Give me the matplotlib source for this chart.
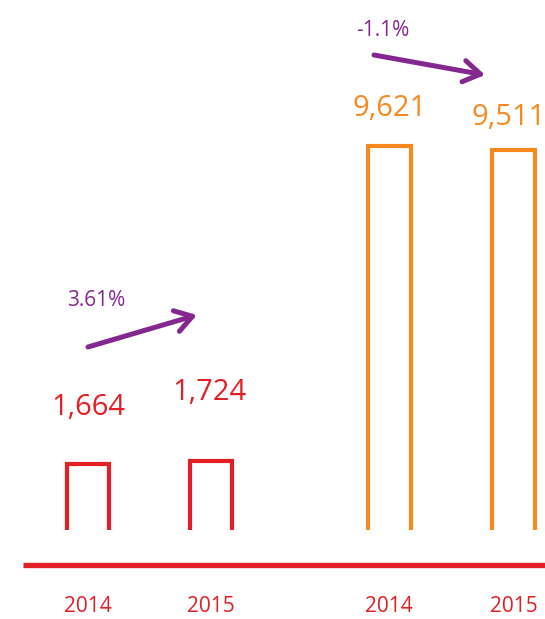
import matplotlib.pyplot as plt
import numpy as np

# data
years = ['2014', '2015', '2014', '2015']
values = [1664, 1724, 9621, 9511]
value_labels = ['1,664', '1,724', '9,621', '9,511']
changes = ['3.61%', '-1.1%']

# layout / style
xpos = [0, 1, 2.45, 3.46]
bar_colors = ['#e31e24', '#e31e24', '#f7891f', '#f7891f']
label_dy = [56, 69, 38, 33]  # px above bar top
label_dx = [0, -1.5, 0, -5]
purple = '#84278f'
red = '#e31e24'
bw = 0.345
upp = 25.06  # value units per pixel

plt.rcParams['font.family'] = ['Open Sans', 'DejaVu Sans']

fig = plt.figure(figsize=(5.45, 6.19), dpi=100)
ax = fig.add_axes([0, 0, 1, 1])
ax.set_xlim(-88 / 123, (545 - 88) / 123)
ax.set_ylim(-89 * upp, (619 - 89) * upp)
ax.axis('off')

# bars drawn as open outlines (no bottom edge)
for x, v, c in zip(xpos, values, bar_colors):
    ax.plot([x - bw / 2, x - bw / 2, x + bw / 2, x + bw / 2], [0, v, v, 0],
            color=c, lw=3.0, solid_joinstyle='miter', solid_capstyle='butt')

for x, v, lab, c, dy, dx in zip(xpos, values, value_labels, bar_colors, label_dy, label_dx):
    ax.text(x + dx / 123, v + dy * upp, lab, color=c, fontsize=21,
            ha='center', va='center')

# baseline
ax.plot([(23 - 88) / 123, (545 - 88) / 123], [-35 * upp, -35 * upp],
        color=red, lw=3.8, solid_capstyle='butt')

# years
for x, y in zip(xpos, years):
    ax.text(x, -77 * upp, y, color=red, fontsize=15, ha='center', va='center')

# change arrows
arrows = [((0.0, 183 * upp), (0.886, 215 * upp)),
          ((2.325, 475 * upp), (3.228, 455 * upp))]
for (p0, p1) in arrows:
    ax.annotate('', xy=p1, xytext=p0,
                arrowprops=dict(arrowstyle='->,head_length=0.55,head_width=0.35',
                                color=purple, lw=3.6, mutation_scale=22,
                                shrinkA=0, shrinkB=0))

ax.text(0.065, 229 * upp, changes[0], color=purple, fontsize=15, ha='center', va='center')
ax.text(2.40, 500 * upp, changes[1], color=purple, fontsize=15, ha='center', va='center')

fig.savefig('out.png', dpi=100)
